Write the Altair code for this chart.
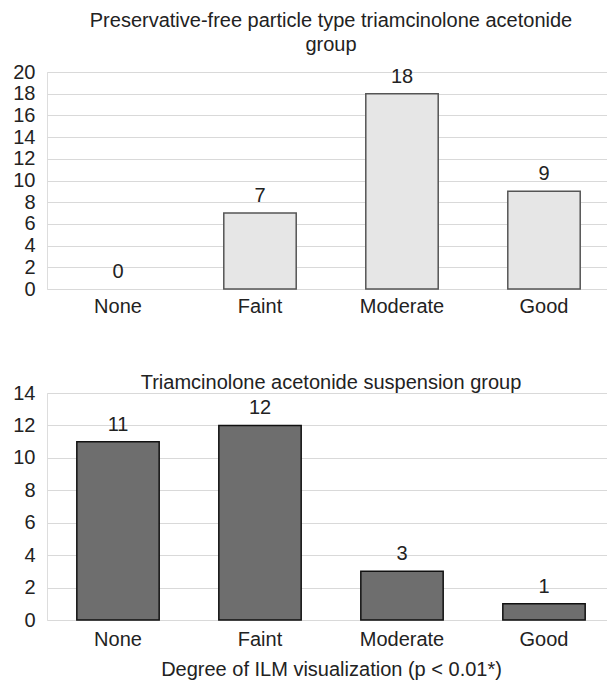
import altair as alt
import pandas as pd

categories = ["None", "Faint", "Moderate", "Good"]
top_values = [0, 7, 18, 9]
bottom_values = [11, 12, 3, 1]

top_title = ["Preservative-free particle type triamcinolone acetonide", "group"]
bottom_title = "Triamcinolone acetonide suspension group"
x_title = "Degree of ILM visualization (p < 0.01*)"

FONT = "Liberation Sans"
FS = 20

df_top = pd.DataFrame({"cat": categories, "val": top_values})
df_bot = pd.DataFrame({"cat": categories, "val": bottom_values})


def panel(df, title, ymax, fill, stroke, pad, height, show_xtitle, title_offset, xlab_pad):
    x = alt.X("cat:N", sort=categories,
              scale=alt.Scale(paddingInner=pad, paddingOuter=pad / 2),
              axis=alt.Axis(title=x_title if show_xtitle else None, labelAngle=0,
                            labelFontSize=FS, labelFont=FONT, labelColor="#222",
                            labelPadding=xlab_pad, domain=False, ticks=False,
                            titleFont=FONT, titleFontSize=FS, titleFontWeight="normal",
                            titleColor="#222", titlePadding=10))
    y = alt.Y("val:Q", scale=alt.Scale(domain=[0, ymax]),
              axis=alt.Axis(title=None, values=list(range(0, ymax + 1, 2)),
                            labelFontSize=FS, labelFont=FONT, labelColor="#222",
                            labelOverlap=False, labelFlush=False,
                            domain=False, ticks=False, labelPadding=12,
                            grid=True, gridColor="#d9d9d9", gridWidth=1))
    bars = alt.Chart(df).transform_filter("datum.val > 0").mark_bar(
        fill=fill, stroke=stroke, strokeWidth=1.5).encode(x=x, y=y)
    text = alt.Chart(df).mark_text(dy=-7, baseline="bottom", fontSize=FS, font=FONT,
                                   color="#222").encode(x=x, y=y, text="val:Q")
    return (bars + text).properties(
        width=568, height=height,
        title=alt.TitleParams(title, font=FONT, fontSize=FS, fontWeight="normal",
                              color="#222", anchor="middle", offset=title_offset,
                              lineHeight=24))


top = panel(df_top, top_title, 20, "#e6e6e6", "#555555", 0.49, 217, False, 7, 7)
bot = panel(df_bot, bottom_title, 14, "#6e6e6e", "#111111", 0.42, 227, True, -10, 9)

chart = alt.vconcat(top, bot, spacing=55).configure_view(
    strokeWidth=0, stroke="transparent").configure(
    padding={"left": 4, "right": -9, "top": 2, "bottom": 0})

chart.save("out.html", embed_options={"renderer": "svg", "actions": False})
